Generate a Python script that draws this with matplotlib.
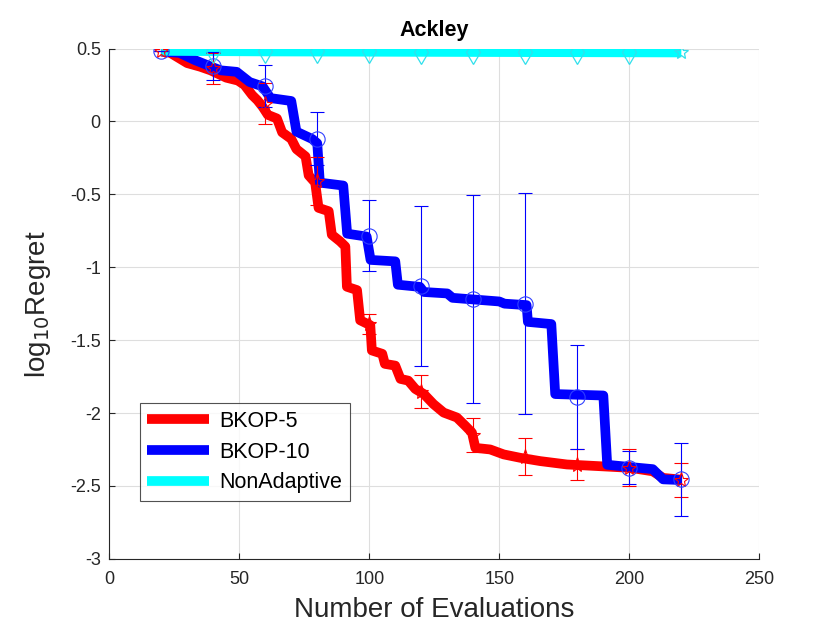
import matplotlib
matplotlib.use("Agg")
import matplotlib.pyplot as plt
import numpy as np

plt.rcParams['font.family'] = ['Liberation Sans', 'DejaVu Sans']
plt.rcParams['axes.unicode_minus'] = False

# staircase curves (evaluation, log10 regret)
red_x = [20, 23.5, 30, 35, 39, 45, 49.5, 52, 55, 57, 59, 61, 64.5, 66.5, 70, 72, 75.5, 76.7,
         79.2, 80.5, 84.4, 85.6, 88.8, 90.8, 91.4, 95.3, 96.5, 100.4, 101, 105, 106, 110,
         112, 115, 117.7, 121, 124.7, 128.6, 133.7, 137, 139.5, 140.8, 146.5, 151.7, 158,
         165.8, 176, 188.8, 200.4, 209, 213, 220]
red_y = [0.48, 0.47, 0.40, 0.375, 0.35, 0.30, 0.28, 0.25, 0.18, 0.145, 0.10, 0.045, 0.02,
         -0.075, -0.12, -0.19, -0.24, -0.37, -0.42, -0.593, -0.616, -0.777, -0.823, -0.858,
         -1.134, -1.157, -1.364, -1.398, -1.571, -1.594, -1.663, -1.675, -1.766, -1.778,
         -1.835, -1.87, -1.939, -1.997, -2.031, -2.089, -2.135, -2.239, -2.25, -2.284,
         -2.307, -2.33, -2.353, -2.365, -2.376, -2.40, -2.445, -2.457]

blue_x = [20, 27, 33, 40, 43, 49, 54, 59, 62, 70, 72, 78, 80, 81, 90, 91.5, 99, 100.5, 110,
          111, 119.5, 121, 130, 132, 150, 152, 160.5, 161, 170, 171.5, 190, 191.5, 200,
          209, 213, 220]
blue_y = [0.48, 0.47, 0.42, 0.37, 0.35, 0.34, 0.27, 0.24, 0.16, 0.14, -0.07, -0.12, -0.15,
          -0.42, -0.44, -0.77, -0.79, -0.95, -0.96, -1.12, -1.135, -1.17, -1.18, -1.21,
          -1.235, -1.25, -1.26, -1.375, -1.39, -1.87, -1.88, -2.355, -2.37, -2.385, -2.455,
          -2.46]

cyan_x = [20, 60, 120, 220]
cyan_y = [0.484, 0.48, 0.477, 0.473]

# error bars every 20 evaluations
eb_x = [20, 40, 60, 80, 100, 120, 140, 160, 180, 200, 220]
bkop5_mean = [0.48, 0.364, 0.122, -0.41, -1.387, -1.853, -2.15, -2.30, -2.354, -2.374, -2.457]
bkop5_err = [0.0, 0.106, 0.142, 0.164, 0.069, 0.114, 0.118, 0.128, 0.107, 0.124, 0.117]
bkop10_mean = [0.48, 0.38, 0.242, -0.118, -0.783, -1.127, -1.216, -1.249, -1.888, -2.374, -2.456]
bkop10_err = [0.0, 0.094, 0.145, 0.18, 0.243, 0.548, 0.713, 0.76, 0.357, 0.113, 0.25]
nonad_mean = [0.484, 0.483, 0.482, 0.481, 0.480, 0.479, 0.478, 0.477, 0.476, 0.475, 0.473]

fig = plt.figure(figsize=(8.4, 6.3), dpi=100)
ax = fig.add_axes([0.13, 0.113, 0.774, 0.81])

l1, = ax.plot(red_x, red_y, color='red', lw=7, solid_capstyle='butt', solid_joinstyle='round',
              label='BKOP-5', zorder=3)
l2, = ax.plot(blue_x, blue_y, color='blue', lw=7, solid_capstyle='butt', solid_joinstyle='round',
              label='BKOP-10', zorder=3)
l3, = ax.plot(cyan_x, cyan_y, color='cyan', lw=7, solid_capstyle='butt', label='NonAdaptive', zorder=3)

ax.errorbar(eb_x, bkop5_mean, yerr=bkop5_err, fmt='none', ecolor='red', elinewidth=0.8,
            capsize=5, capthick=0.8, zorder=4)
ax.plot(eb_x, bkop5_mean, ls='none', marker='*', ms=11, mfc='none', mec='red', mew=0.8, zorder=5)
ax.errorbar(eb_x, bkop10_mean, yerr=bkop10_err, fmt='none', ecolor='blue', elinewidth=0.8,
            capsize=5, capthick=0.8, zorder=4)
ax.plot(eb_x, bkop10_mean, ls='none', marker='o', ms=11, mfc='none', mec='#3040ff', mew=0.8, zorder=5)
ax.plot(eb_x[1:-1], nonad_mean[1:-1], ls='none', marker='d', ms=12, mfc='none', mec='#30e0ec', mew=0.9, zorder=5)
ax.plot(eb_x[-1:], nonad_mean[-1:], ls='none', marker='*', ms=10, mfc='none', mec='#30e0ec', mew=0.9, zorder=5)

ax.set_xlim(0, 250)
ax.set_ylim(-3, 0.5)
ax.set_xticks([0, 50, 100, 150, 200, 250])
ax.set_yticks(np.arange(-3, 0.51, 0.5))
ax.set_yticklabels(['-3', '-2.5', '-2', '-1.5', '-1', '-0.5', '0', '0.5'])
ax.grid(True, color='#dedede', lw=0.8)
ax.set_axisbelow(True)
for s in ['top', 'right']:
    ax.spines[s].set_visible(False)
for s in ['left', 'bottom']:
    ax.spines[s].set_color('#262626')
ax.tick_params(direction='in', length=4, labelsize=13, colors='#262626')
ax.tick_params(axis='x', pad=9)
ax.tick_params(axis='y', pad=6)

ax.set_title('Ackley', fontsize=15.5, fontweight='bold', pad=9)
ax.set_xlabel('Number of Evaluations', fontsize=20, color='#262626', labelpad=6)
ax.set_ylabel('log$_{10}$Regret', fontsize=20, color='#262626', labelpad=12)

leg = ax.legend(handles=[l1, l2, l3], loc='lower left', bbox_to_anchor=(0.04, 0.105),
                fontsize=15.5, frameon=True, fancybox=False, edgecolor='#262626',
                handlelength=2.9, borderpad=0.35, labelspacing=0.45, handletextpad=0.45,
                borderaxespad=0.2)
leg.get_frame().set_linewidth(0.8)

fig.savefig('out.png', dpi=100)
